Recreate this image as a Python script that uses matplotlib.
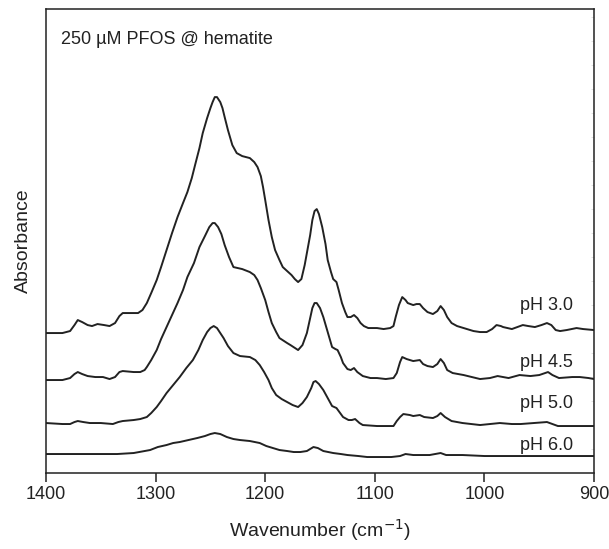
"""ATR-FTIR spectra of PFOS sorbed on hematite at four pH values (stacked, offset)."""
import numpy as np
import matplotlib; matplotlib.use("Agg"); import matplotlib.pyplot as plt
from matplotlib.ticker import MultipleLocator

plt.rcParams["font.family"] = ["Liberation Sans", "DejaVu Sans"]

# spectra (absorbance, arbitrary units, offsets included)
wn_30 = [1400, 1385, 1378, 1374, 1371, 1367, 1362, 1358, 1353, 1347, 1342, 1337, 1333, 1330, 1325, 1316, 1312,
         1308, 1304, 1299, 1295, 1290, 1285, 1280, 1275, 1271, 1267, 1264, 1260, 1257, 1253, 1250, 1248, 1246,
         1244, 1241, 1239, 1237, 1234, 1230, 1226, 1221, 1214, 1210, 1207, 1204, 1202, 1200, 1197, 1194, 1191,
         1187, 1184, 1180, 1176, 1173, 1170, 1167, 1164, 1162, 1159, 1157, 1155, 1153, 1151, 1148, 1145, 1143,
         1140, 1138, 1135, 1133, 1130, 1127, 1125, 1122, 1119, 1116, 1113, 1110, 1106, 1098, 1092, 1086, 1083,
         1081, 1078, 1075, 1072, 1070, 1065, 1062, 1059, 1056, 1052, 1047, 1043, 1040, 1037, 1034, 1030, 1025,
         1019, 1010, 1004, 998, 993, 989, 985, 983, 975, 970, 965, 960, 954, 948, 943, 939, 935, 931, 925, 916,
         910, 900]
ab_30 = [1.40, 1.40, 1.42, 1.48, 1.53, 1.51, 1.48, 1.47, 1.49, 1.48, 1.47, 1.50, 1.57, 1.60, 1.60, 1.60, 1.63,
         1.70, 1.80, 1.93, 2.06, 2.23, 2.40, 2.56, 2.70, 2.81, 2.95, 3.08, 3.25, 3.40, 3.55, 3.65, 3.71, 3.76,
         3.76, 3.71, 3.65, 3.56, 3.43, 3.28, 3.20, 3.17, 3.15, 3.11, 3.06, 2.97, 2.86, 2.73, 2.53, 2.36, 2.23,
         2.13, 2.06, 2.02, 1.98, 1.94, 1.91, 1.94, 2.08, 2.20, 2.38, 2.53, 2.62, 2.64, 2.59, 2.46, 2.29, 2.13,
         2.01, 1.94, 1.91, 1.83, 1.70, 1.61, 1.56, 1.56, 1.58, 1.55, 1.50, 1.47, 1.45, 1.45, 1.44, 1.45, 1.47,
         1.56, 1.68, 1.76, 1.73, 1.70, 1.68, 1.69, 1.69, 1.65, 1.61, 1.59, 1.62, 1.67, 1.63, 1.56, 1.50, 1.47,
         1.45, 1.42, 1.41, 1.41, 1.44, 1.48, 1.47, 1.46, 1.44, 1.46, 1.48, 1.47, 1.46, 1.48, 1.50, 1.48, 1.43,
         1.42, 1.43, 1.45, 1.44, 1.43]

wn_45 = [1400, 1385, 1378, 1374, 1371, 1367, 1362, 1355, 1348, 1342, 1337, 1333, 1330, 1320, 1314, 1310, 1308,
         1304, 1299, 1295, 1290, 1285, 1280, 1275, 1271, 1265, 1260, 1255, 1251, 1248, 1246, 1243, 1240, 1237,
         1233, 1229, 1221, 1214, 1210, 1207, 1204, 1200, 1197, 1194, 1190, 1187, 1180, 1177, 1170, 1166, 1162,
         1159, 1157, 1155, 1153, 1150, 1147, 1143, 1139, 1136, 1134, 1131, 1129, 1125, 1122, 1119, 1116, 1111,
         1104, 1098, 1090, 1083, 1080, 1077, 1075, 1071, 1068, 1065, 1059, 1056, 1052, 1047, 1043, 1040, 1037,
         1034, 1029, 1019, 1004, 995, 988, 983, 978, 968, 958, 950, 942, 938, 932, 920, 913, 905, 900]
ab_45 = [0.93, 0.93, 0.95, 0.99, 1.01, 0.99, 0.97, 0.96, 0.96, 0.94, 0.96, 1.01, 1.02, 1.01, 1.01, 1.03, 1.06,
         1.13, 1.23, 1.34, 1.46, 1.58, 1.70, 1.83, 1.96, 2.10, 2.26, 2.37, 2.46, 2.50, 2.50, 2.46, 2.39, 2.28,
         2.16, 2.06, 2.04, 2.01, 1.98, 1.93, 1.85, 1.73, 1.61, 1.50, 1.41, 1.35, 1.30, 1.28, 1.23, 1.28, 1.40,
         1.55, 1.65, 1.70, 1.70, 1.65, 1.56, 1.41, 1.26, 1.24, 1.23, 1.16, 1.10, 1.04, 1.03, 1.05, 1.01, 0.97,
         0.95, 0.95, 0.94, 0.95, 1.00, 1.11, 1.16, 1.14, 1.13, 1.12, 1.13, 1.09, 1.07, 1.06, 1.09, 1.14, 1.10,
         1.03, 1.00, 0.98, 0.94, 0.95, 0.97, 0.96, 0.95, 0.98, 0.97, 0.98, 1.01, 0.98, 0.95, 0.96, 0.96, 0.95, 0.94]

wn_50 = [1400, 1385, 1378, 1374, 1371, 1366, 1360, 1350, 1339, 1334, 1330, 1320, 1314, 1308, 1304, 1299, 1295,
         1290, 1284, 1278, 1272, 1266, 1261, 1257, 1253, 1250, 1247, 1244, 1241, 1238, 1234, 1229, 1223, 1214,
         1209, 1205, 1201, 1197, 1194, 1190, 1185, 1180, 1175, 1170, 1166, 1162, 1158, 1156, 1154, 1151, 1147,
         1143, 1139, 1135, 1129, 1124, 1121, 1118, 1114, 1111, 1098, 1090, 1083, 1080, 1077, 1074, 1068, 1065,
         1059, 1055, 1047, 1043, 1040, 1036, 1030, 1020, 1004, 995, 986, 975, 967, 955, 943, 938, 933, 920, 910, 900]
ab_50 = [0.50, 0.49, 0.49, 0.51, 0.52, 0.51, 0.50, 0.50, 0.49, 0.51, 0.52, 0.53, 0.54, 0.56, 0.60, 0.66, 0.72,
         0.80, 0.88, 0.96, 1.05, 1.13, 1.23, 1.33, 1.41, 1.45, 1.47, 1.45, 1.40, 1.35, 1.27, 1.20, 1.17, 1.16,
         1.13, 1.08, 1.01, 0.93, 0.85, 0.78, 0.74, 0.71, 0.68, 0.66, 0.70, 0.76, 0.85, 0.91, 0.92, 0.89, 0.83,
         0.75, 0.67, 0.65, 0.56, 0.53, 0.53, 0.54, 0.50, 0.48, 0.47, 0.47, 0.47, 0.52, 0.56, 0.59, 0.58, 0.57,
         0.58, 0.56, 0.55, 0.57, 0.60, 0.56, 0.52, 0.50, 0.48, 0.49, 0.50, 0.49, 0.49, 0.50, 0.51, 0.49, 0.47,
         0.47, 0.47, 0.47]

wn_60 = [1400, 1380, 1360, 1335, 1320, 1310, 1305, 1298, 1290, 1284, 1278, 1270, 1262, 1255, 1250, 1246, 1241,
         1235, 1229, 1223, 1214, 1205, 1199, 1193, 1187, 1180, 1174, 1168, 1162, 1156, 1152, 1147, 1138, 1131,
         1125, 1115, 1107, 1095, 1085, 1077, 1072, 1065, 1058, 1050, 1045, 1040, 1035, 1020, 1000, 980, 960,
         940, 920, 900]
ab_60 = [0.19, 0.19, 0.19, 0.19, 0.20, 0.22, 0.23, 0.26, 0.28, 0.30, 0.31, 0.33, 0.35, 0.37, 0.39, 0.40, 0.39,
         0.36, 0.34, 0.33, 0.32, 0.30, 0.27, 0.25, 0.23, 0.22, 0.21, 0.21, 0.22, 0.26, 0.25, 0.22, 0.20, 0.19,
         0.18, 0.17, 0.16, 0.16, 0.16, 0.17, 0.19, 0.18, 0.18, 0.18, 0.19, 0.20, 0.18, 0.18, 0.17, 0.17, 0.17,
         0.17, 0.17, 0.17]

labels = ["pH 3.0", "pH 4.5", "pH 5.0", "pH 6.0"]
label_y = [1.68, 1.11, 0.70, 0.28]
xticks = [1400, 1300, 1200, 1100, 1000, 900]

INK = "#222222"
fig = plt.figure(figsize=(6.09, 5.49), dpi=100)
ax = fig.add_axes([0.0755, 0.1384, 0.900, 0.845])
for wn, ab in [(wn_30, ab_30), (wn_45, ab_45), (wn_50, ab_50), (wn_60, ab_60)]:
    ax.plot(wn, ab, color=INK, lw=1.4, solid_joinstyle="round")
for lab, y in zip(labels, label_y):
    ax.text(919, y, lab, ha="right", va="center", fontsize=13, color=INK)
ax.text(1386, 4.34, "250 µM PFOS @ hematite", ha="left", va="center", fontsize=13, color=INK)

ax.set_xlim(1400, 900); ax.set_ylim(0, 4.64)
ax.set_xticks(xticks); ax.set_xticklabels([str(t) for t in xticks])
ax.tick_params(axis="x", direction="out", length=6.5, width=1.1, pad=3, labelsize=13, colors=INK)
ax.yaxis.set_major_locator(MultipleLocator(0.24))
ax.tick_params(axis="y", left=False, labelleft=False, right=True, direction="in", length=2.5, width=0.6, color="#dddddd")
for s in ax.spines.values(): s.set_linewidth(1.1); s.set_color(INK)
ax.set_xlabel("Wavenumber (cm$^{-1}$)", fontsize=14, color=INK, labelpad=10)
ax.set_ylabel("Absorbance", fontsize=14, color=INK, labelpad=10)
fig.savefig("out.png", dpi=100)
